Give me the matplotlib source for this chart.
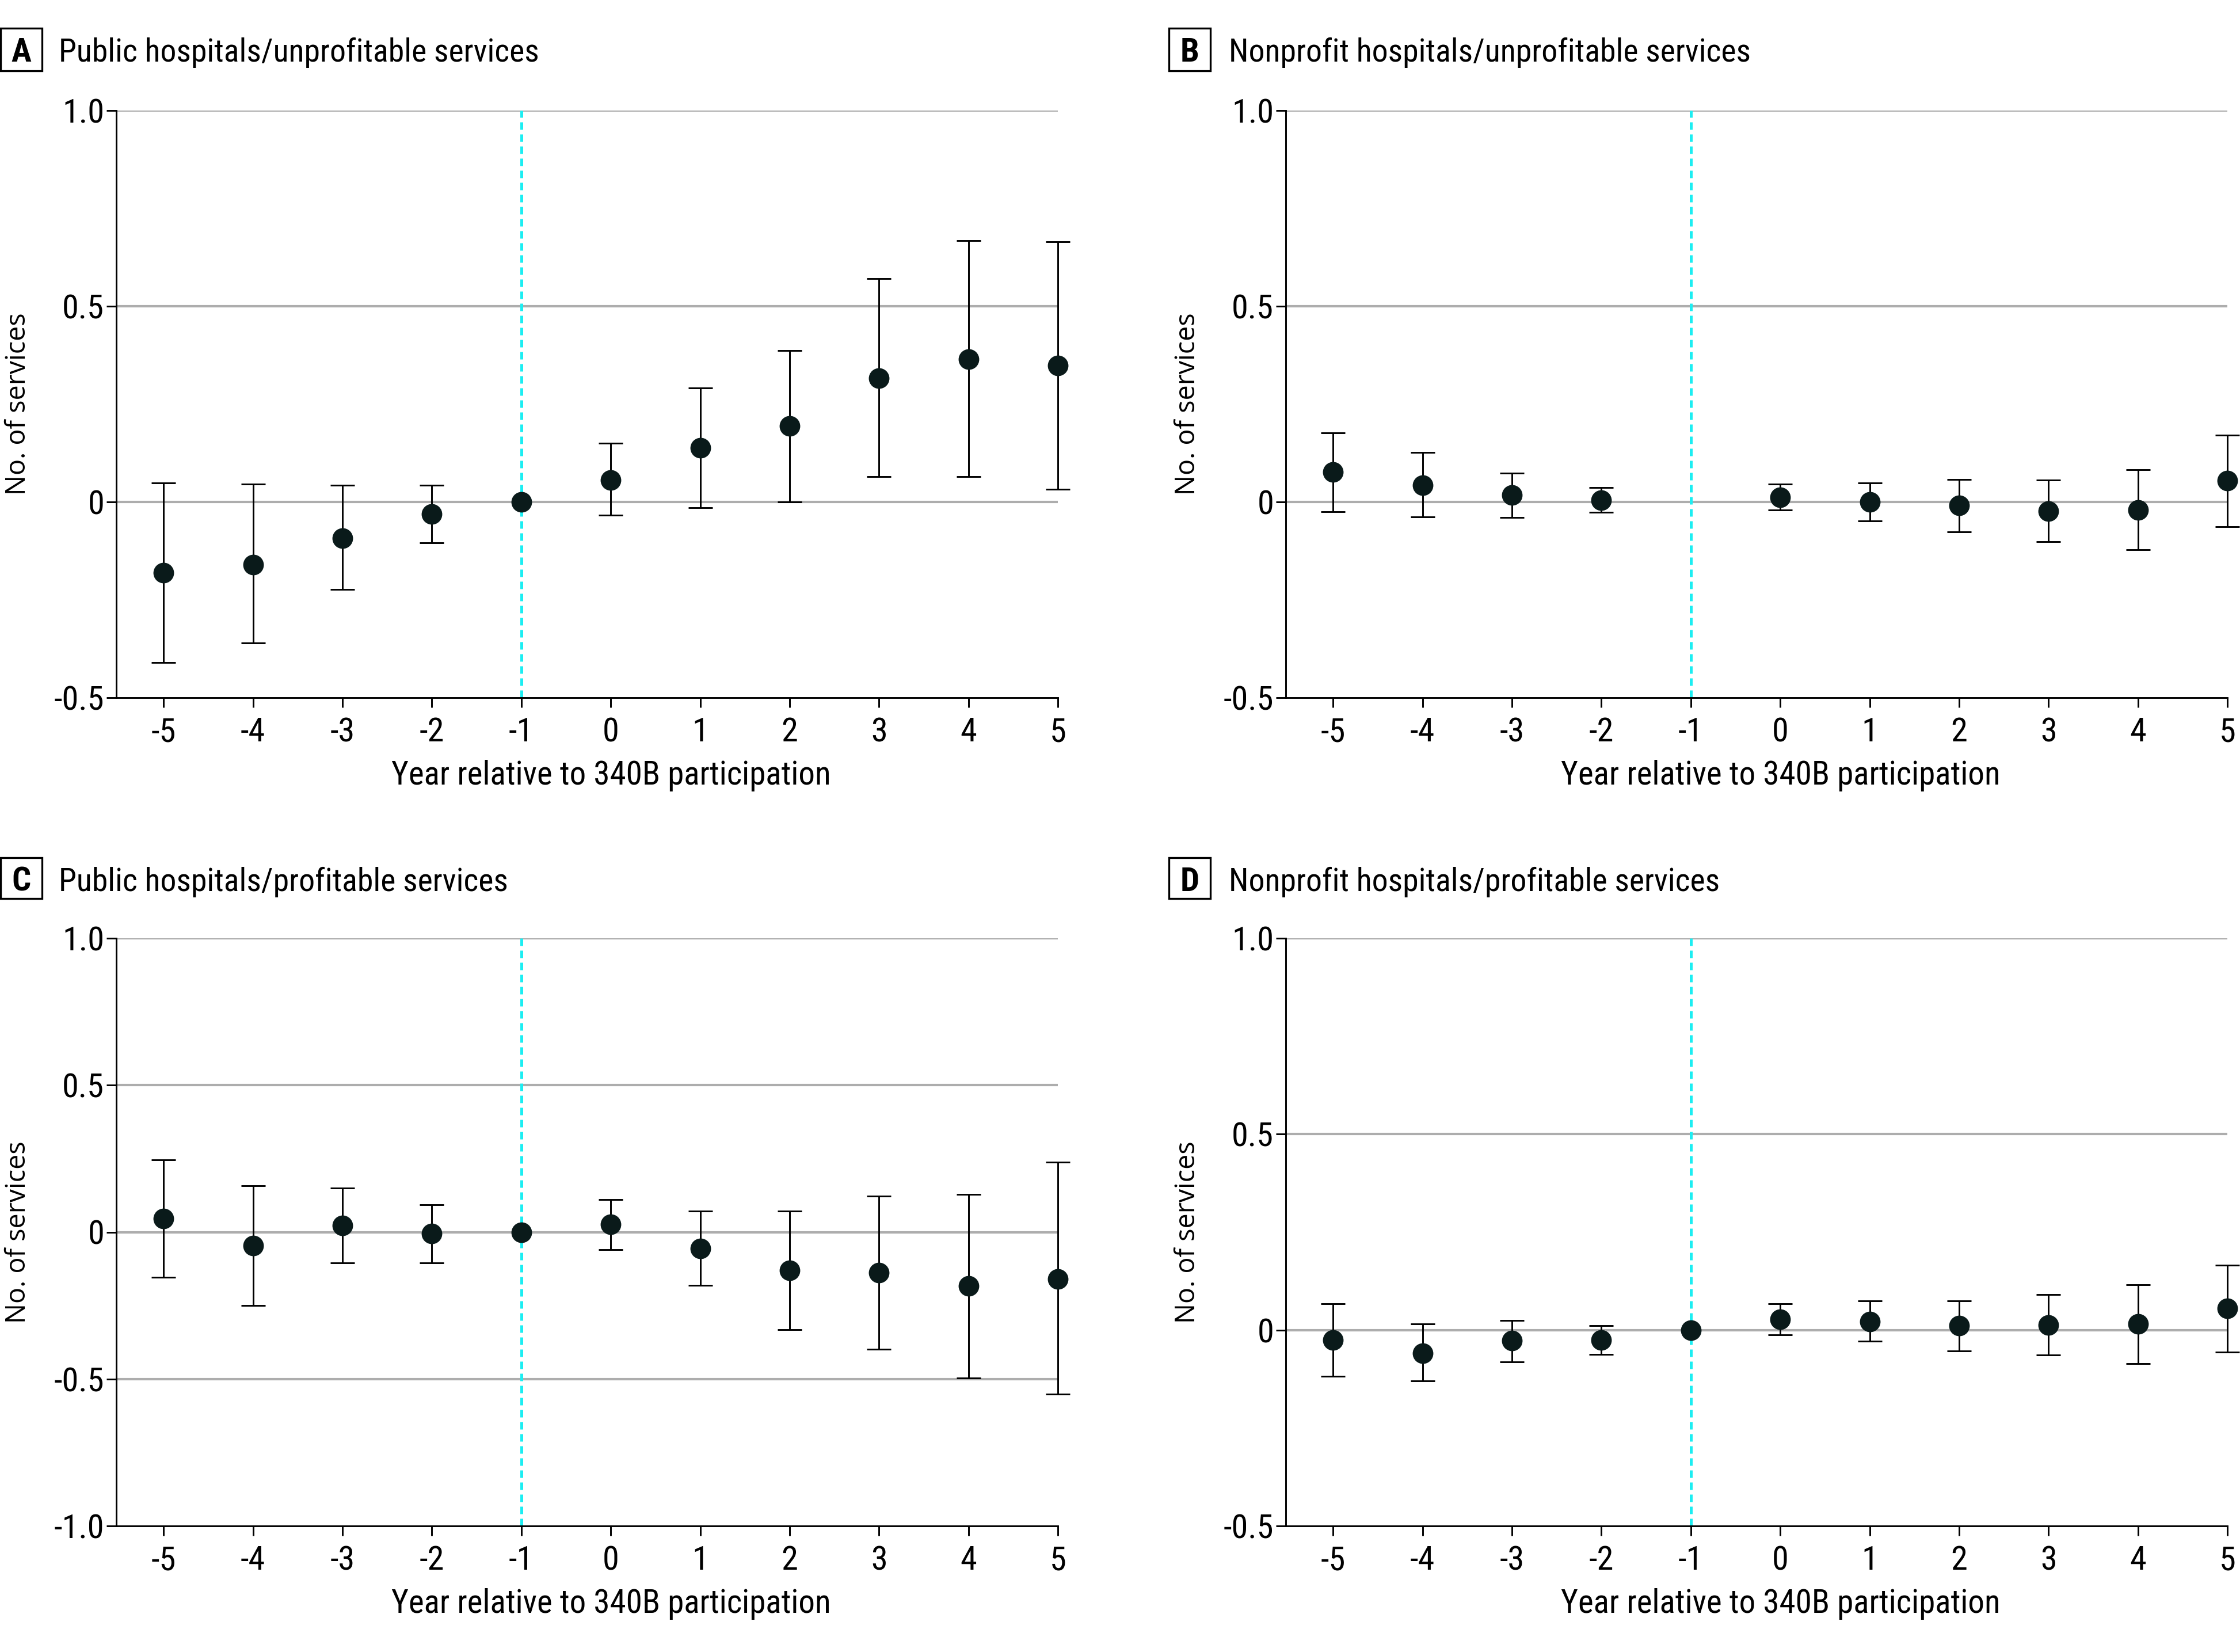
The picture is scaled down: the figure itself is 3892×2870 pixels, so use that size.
import numpy as np
import matplotlib.pyplot as plt
from matplotlib.patches import Rectangle
from matplotlib import font_manager
from matplotlib.font_manager import FontProperties

years = [-5, -4, -3, -2, -1, 0, 1, 2, 3, 4, 5]

# panel A: public hospitals / unprofitable services
a_est = [-0.181, -0.160, -0.092, -0.031, 0.0, 0.056, 0.138, 0.194, 0.316, 0.365, 0.348]
a_lo = [-0.411, -0.361, -0.224, -0.104, np.nan, -0.034, -0.014, 0.000, 0.064, 0.064, 0.033]
a_hi = [0.049, 0.045, 0.042, 0.042, np.nan, 0.150, 0.291, 0.387, 0.571, 0.667, 0.664]

# panel B: nonprofit hospitals / unprofitable services (no point at -1)
b_est = [0.076, 0.043, 0.017, 0.005, np.nan, 0.012, 0.000, -0.009, -0.024, -0.021, 0.054]
b_lo = [-0.025, -0.038, -0.039, -0.026, np.nan, -0.021, -0.049, -0.077, -0.101, -0.122, -0.063]
b_hi = [0.176, 0.126, 0.073, 0.037, np.nan, 0.046, 0.049, 0.058, 0.056, 0.083, 0.171]

# panel C: public hospitals / profitable services
c_est = [0.046, -0.046, 0.023, -0.005, 0.0, 0.027, -0.055, -0.130, -0.139, -0.184, -0.159]
c_lo = [-0.154, -0.250, -0.105, -0.105, np.nan, -0.059, -0.182, -0.332, -0.398, -0.496, -0.552]
c_hi = [0.245, 0.157, 0.150, 0.093, np.nan, 0.111, 0.071, 0.071, 0.123, 0.129, 0.238]

# panel D: nonprofit hospitals / profitable services
d_est = [-0.025, -0.059, -0.027, -0.025, 0.0, 0.028, 0.021, 0.011, 0.013, 0.016, 0.055]
d_lo = [-0.118, -0.130, -0.082, -0.062, np.nan, -0.012, -0.029, -0.054, -0.063, -0.086, -0.056]
d_hi = [0.067, 0.015, 0.025, 0.011, np.nan, 0.067, 0.074, 0.074, 0.090, 0.115, 0.165]


# look for a condensed font file, else fall back to Liberation Sans
def find_font(bold=False):
    files = [f.fname for f in font_manager.fontManager.ttflist]
    want = ['LiberationSansNarrow', 'RobotoCondensed', 'DejaVuSansCondensed', 'OpenSans_Condensed',
            'OpenSansCondensed', 'Roboto_Condensed']
    for w in want:
        for f in files:
            base = f.split('/')[-1]
            if w in base.replace('-', '') or w in base:
                isb = 'Bold' in base
                if isb == bold and 'Italic' not in base and 'Oblique' not in base \
                        and 'Light' not in base and 'Semi' not in base and 'Extra' not in base \
                        and 'Medium' not in base and 'Black' not in base and 'Thin' not in base:
                    return FontProperties(fname=f), True
    return FontProperties(family='Liberation Sans', weight='bold' if bold else 'normal'), False


reg, condensed = find_font(False)
bld, _ = find_font(True)
k = 1.0 if condensed else 0.86  # shrink when only a normal-width font is there

W, H = 3892, 2870
fig = plt.figure(figsize=(W / 300, H / 300), dpi=300)


def fx(px):
    return px / W


def fy(py):
    return 1 - py / H


def fp(base, size):
    p = base.copy()
    p.set_size(size)
    return p


def panel(left, top_px, bottom_px, letter, title, est, lo, hi, ylim, yticks,
          box_x, title_x, box_top, box_bot, base_y):
    x0, x1 = left, left + 1636
    ax = fig.add_axes([fx(x0), fy(bottom_px), fx(x1 - x0), fy(top_px) - fy(bottom_px)])
    est = np.array(est, float)
    lo = np.array(lo, float)
    hi = np.array(hi, float)
    yrs = np.array(years)

    for t in yticks:
        if t != ylim[0]:
            ax.axhline(t, color='#adadad', lw=1.0, zorder=1)
    ax.axvline(-1, color='#1ceef2', lw=1.2, ls=(0, (2.6, 1.6)), zorder=2)

    m = ~np.isnan(lo)
    ax.errorbar(yrs[m], est[m], yerr=[est[m] - lo[m], hi[m] - est[m]], fmt='none',
                ecolor='black', elinewidth=0.7, capsize=5, capthick=0.7, zorder=3,
                clip_on=False)
    ax.plot(yrs, est, 'o', color='#0a1a1a', ms=8.6, mec='none', zorder=4, clip_on=False)

    ax.set_xlim(-5.53, 5)
    ax.set_ylim(*ylim)
    ax.set_xticks(years)
    ax.set_xticklabels([str(y) for y in years], fontproperties=fp(reg, 14 * k))
    ax.set_yticks(yticks)
    ax.set_yticklabels(['0' if t == 0 else f'{t:.1f}' for t in yticks],
                       fontproperties=fp(reg, 14 * k))
    ax.tick_params(axis='both', length=4, width=0.7, color='black')
    ax.tick_params(axis='x', pad=4)
    ax.tick_params(axis='y', pad=1)
    for s in ['top', 'right']:
        ax.spines[s].set_visible(False)
    for s in ['left', 'bottom']:
        ax.spines[s].set_linewidth(0.7)

    ax.set_xlabel('Year relative to 340B participation', fontproperties=fp(reg, 13.7 * k))
    ax.xaxis.set_label_coords(0.5257, -0.106)
    ax.set_ylabel('No. of services', family='Open Sans', fontsize=11.2)
    ax.yaxis.set_label_coords(-0.090, 0.5)

    fig.patches.append(Rectangle((fx(box_x), fy(box_bot)), fx(72), fy(box_top) - fy(box_bot),
                                 transform=fig.transFigure, fill=False, lw=0.8, ec='black'))
    fig.text(fx(box_x + 36), fy(base_y), letter, fontproperties=fp(bld, 14 * k),
             ha='center', va='baseline')
    fig.text(fx(title_x), fy(base_y), title, fontproperties=fp(reg, 13.4 * k),
             ha='left', va='baseline')
    return ax


panel(202, 192, 1212, 'A', 'Public hospitals/unprofitable services', a_est, a_lo, a_hi,
      (-0.5, 1.0), [-0.5, 0, 0.5, 1.0], 1, 102, 49, 123, 107)
panel(2234, 192, 1212, 'B', 'Nonprofit hospitals/unprofitable services', b_est, b_lo, b_hi,
      (-0.5, 1.0), [-0.5, 0, 0.5, 1.0], 2031, 2135, 49, 123, 107)
panel(202, 1630, 2651, 'C', 'Public hospitals/profitable services', c_est, c_lo, c_hi,
      (-1.0, 1.0), [-1.0, -0.5, 0, 0.5, 1.0], 1, 102, 1490, 1561, 1548)
panel(2234, 1630, 2651, 'D', 'Nonprofit hospitals/profitable services', d_est, d_lo, d_hi,
      (-0.5, 1.0), [-0.5, 0, 0.5, 1.0], 2031, 2135, 1490, 1561, 1548)

fig.savefig('out.png', dpi=300)
